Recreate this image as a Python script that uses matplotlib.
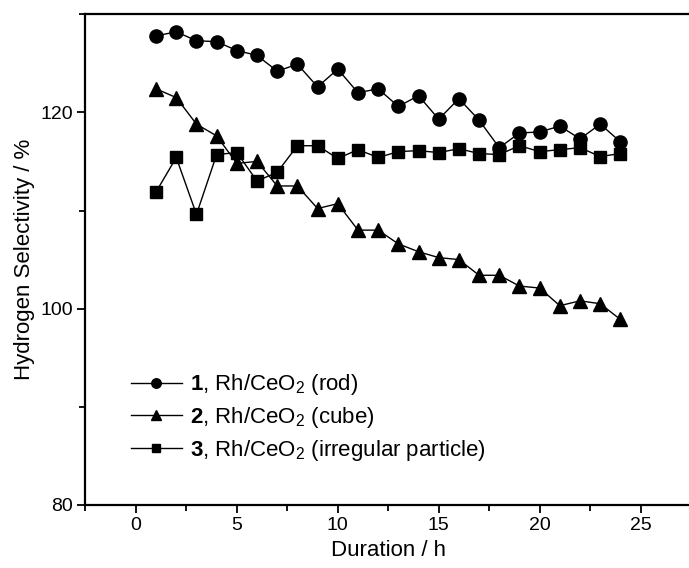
import matplotlib
matplotlib.use("Agg")
import matplotlib.pyplot as plt
from matplotlib.ticker import MultipleLocator

plt.rcParams['font.family'] = ['Liberation Sans', 'DejaVu Sans']
plt.rcParams['mathtext.fontset'] = 'custom'
plt.rcParams['mathtext.rm'] = 'Liberation Sans'
plt.rcParams['mathtext.it'] = 'Liberation Sans:italic'
plt.rcParams['mathtext.bf'] = 'Liberation Sans:bold'

# Duracao (h)
horas = list(range(1, 25))

# Seletividade de hidrogenio (%) de cada amostra
rod = [127.8, 128.2, 127.3, 127.2, 126.3, 125.8, 124.2, 124.9, 122.6, 124.4, 122.0, 122.4,
       120.6, 121.7, 119.3, 121.4, 119.2, 116.4, 117.9, 118.0, 118.6, 117.3, 118.8, 117.0]
cube = [122.4, 121.5, 118.8, 117.6, 114.8, 115.0, 112.5, 112.5, 110.2, 110.7, 108.0, 108.0,
        106.6, 105.8, 105.2, 105.0, 103.4, 103.4, 102.3, 102.1, 100.3, 100.8, 100.5, 98.9]
irregular = [111.9, 115.4, 109.6, 115.7, 115.9, 113.0, 113.9, 116.6, 116.6, 115.3, 116.2, 115.4,
             116.0, 116.1, 115.9, 116.3, 115.8, 115.7, 116.6, 116.0, 116.2, 116.4, 115.5, 115.8]

rotulos = [r'$\mathbf{1}$, Rh/CeO$_2$ (rod)',
           r'$\mathbf{2}$, Rh/CeO$_2$ (cube)',
           r'$\mathbf{3}$, Rh/CeO$_2$ (irregular particle)']

fig = plt.figure(figsize=(6.89, 5.68), dpi=100)
ax = fig.add_axes([0.124, 0.111, 0.879, 0.864])

ax.plot(horas, rod, '-o', color='black', lw=1.0, ms=9.5, label=rotulos[0])
ax.plot(horas, cube, '-^', color='black', lw=1.0, ms=10.5, label=rotulos[1])
ax.plot(horas, irregular, '-s', color='black', lw=1.0, ms=8.5, label=rotulos[2])

ax.set_xlim(-2.5, 27.5)
ax.set_ylim(80, 130)
ax.xaxis.set_major_locator(MultipleLocator(5))
ax.xaxis.set_minor_locator(MultipleLocator(2.5))
ax.yaxis.set_major_locator(MultipleLocator(20))
ax.yaxis.set_minor_locator(MultipleLocator(10))

# Eixos com bordas grossas, sem borda direita (cortada no original)
for lado in ['left', 'bottom', 'top']:
    ax.spines[lado].set_linewidth(1.6)
ax.spines['right'].set_visible(False)
ax.tick_params(which='major', direction='out', length=6, width=1.3, labelsize=14, pad=3)
ax.tick_params(which='minor', direction='out', length=4, width=1.3)
ax.tick_params(top=False, right=False, which='both')

ax.set_xlabel('Duration / h', fontsize=16, labelpad=4)
ax.set_ylabel('Hydrogen Selectivity / %', fontsize=16, labelpad=4)

# Legenda sem moldura, canto inferior esquerdo (posicao em fracao da figura)
ax.legend(loc='lower left', bbox_to_anchor=(0.19, 0.185), bbox_transform=fig.transFigure,
          borderpad=0, borderaxespad=0, frameon=False, fontsize=16,
          handlelength=2.3, labelspacing=0.35, handletextpad=0.36, markerscale=0.72)

fig.savefig('out.png', dpi=100)
